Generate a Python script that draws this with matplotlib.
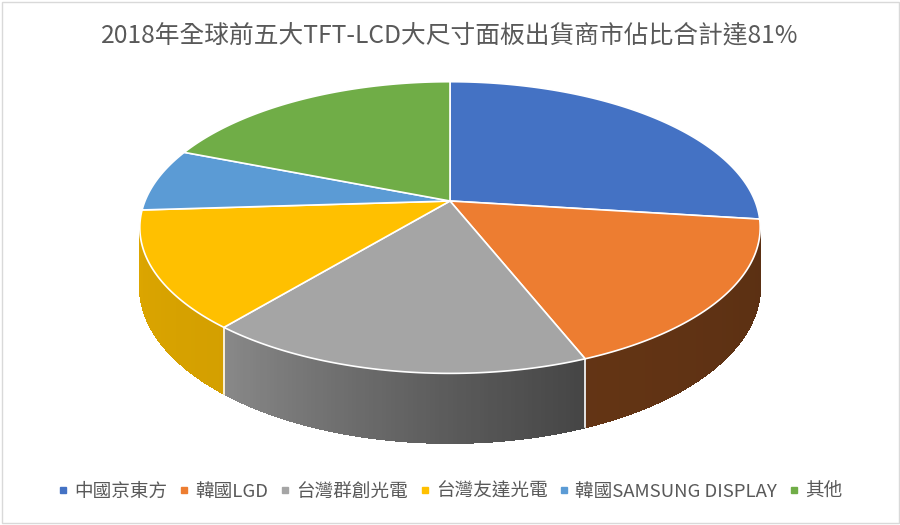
import numpy as np
import matplotlib.pyplot as plt
from matplotlib.collections import PolyCollection
from matplotlib.lines import Line2D
from matplotlib.patches import Rectangle
from matplotlib.colors import to_rgb

plt.rcParams["font.family"] = ["Noto Sans CJK TC", "DejaVu Sans"]

title = "2018年全球前五大TFT-LCD大尺寸面板出貨商市佔比合計達81%"
labels = ["中國京東方", "韓國LGD", "台灣群創光電", "台灣友達光電", "韓國SAMSUNG DISPLAY", "其他"]
shares = [27, 17, 17, 13, 7, 19]
colors = ["#4472C4", "#ED7D31", "#A5A5A5", "#FFC000", "#5B9BD5", "#70AD47"]

# geometry of the tilted disc, in pixels
CX, CY = 450, 201
RX, RY = 305, 141
PERSP = 0.182
DEPTH = 57


def project(theta, z=0.0):
    t = np.radians(theta)
    w = 1 + PERSP * np.sin(t)
    return CX + RX * np.cos(t) / w, CY + (z - RY * np.sin(t)) / w


def shade(theta):
    # rough lighting of the side wall, light on the left, dark on the right
    return np.interp(theta, [-190, -130, -90, -69, -10], [0.88, 0.83, 0.55, 0.42, 0.38])


fig = plt.figure(figsize=(9, 5.25), dpi=100)
ax = fig.add_axes([0, 0, 1, 1])
ax.set_xlim(0, 900)
ax.set_ylim(525, 0)
ax.axis("off")

edges = 90 - 360 * np.cumsum([0] + shares) / sum(shares)
lim = np.degrees(np.arcsin(PERSP))
front_lo, front_hi = -180 + lim, -lim

# side walls, built from thin strips so the shading can vary along the rim
quads, qcolors = [], []
for i, col in enumerate(colors):
    hi = min(edges[i], front_hi)
    lo = max(edges[i + 1], front_lo)
    if hi <= lo:
        continue
    th = np.linspace(hi, lo, 90)
    base = np.array(to_rgb(col))
    for a, b in zip(th[:-1], th[1:]):
        x0, y0 = project(a)
        x1, y1 = project(b)
        x2, y2 = project(b, DEPTH)
        x3, y3 = project(a, DEPTH)
        quads.append([(x0, y0), (x1, y1), (x2, y2), (x3, y3)])
        qcolors.append(np.clip(base * shade((a + b) / 2), 0, 1))
ax.add_collection(PolyCollection(quads, facecolors=qcolors, edgecolors=qcolors,
                                 linewidths=0.6, antialiaseds=False, zorder=1))

for a in edges:
    if front_lo < a < front_hi:
        xs, ys = zip(project(a), project(a, DEPTH))
        ax.plot(xs, ys, color="white", lw=1.2, zorder=2)

# top faces
tops = []
for i in range(len(shares)):
    th = np.linspace(edges[i], edges[i + 1], 200)
    xs, ys = project(th)
    tops.append([(CX, CY)] + list(zip(xs, ys)))
ax.add_collection(PolyCollection(tops, facecolors=colors, edgecolors="white", linewidths=1.2, zorder=3))

fig.text(0.5, 1 - 35 / 525, title, ha="center", va="center", fontsize=17.8, color="#595959")

handles = [Line2D([], [], marker="s", ls="none", color=c, markersize=5) for c in colors]
fig.legend(handles, labels, loc="center", bbox_to_anchor=(0.5, 1 - 492 / 525), ncol=6,
           frameon=False, fontsize=13.4, handlelength=0.6, handletextpad=0.3,
           columnspacing=0.6, labelcolor="#595959", borderaxespad=0)

ax.add_patch(Rectangle((1.5, 1.5), 897, 521, fill=False, ec="#d9d9d9", lw=1, zorder=5))

fig.savefig("out.png", dpi=100)
